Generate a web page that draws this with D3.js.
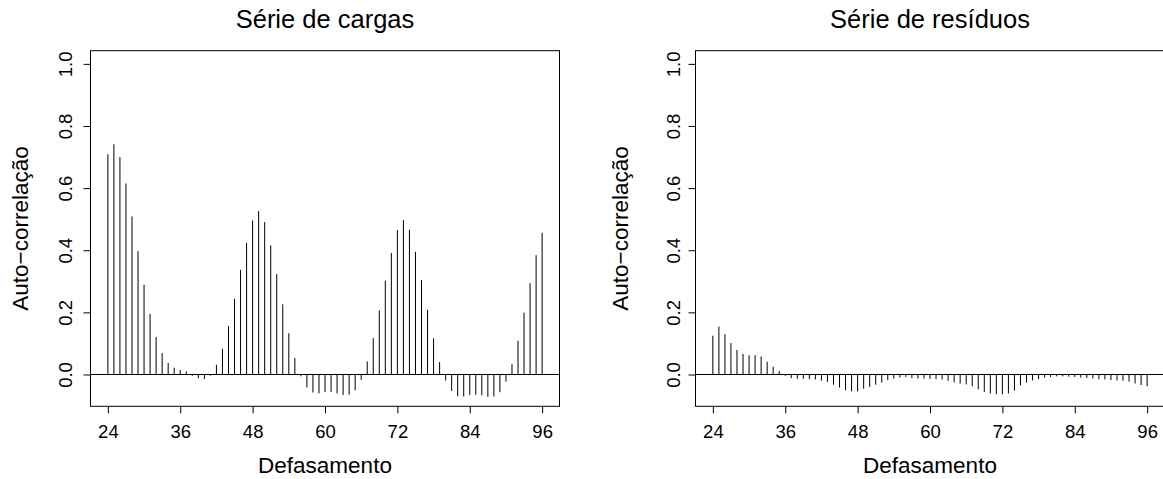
<!DOCTYPE html>
<html>
<head>
<meta charset="utf-8">
<script src="https://cdn.jsdelivr.net/npm/d3@7"></script>
<style>
  html, body { margin: 0; padding: 0; background: #fff; }
  svg { display: block; }
  text { font-family: "Liberation Sans", Arial, Helvetica, sans-serif; fill: #000; }
</style>
</head>
<body>
<svg id="chart" width="1163" height="479"></svg>
<script>
// Lags shown on both correlograms
const lags = d3.range(24, 97);

// Sample autocorrelation of the load series, lags 24..96
const acfCargas = [
  0.709, 0.741, 0.700, 0.615, 0.509, 0.397, 0.289, 0.195, 0.121, 0.069,
  0.037, 0.022, 0.015, 0.010, -0.004, -0.012, -0.015, -0.004, 0.031, 0.083,
  0.156, 0.244, 0.337, 0.424, 0.496, 0.526, 0.491, 0.416, 0.323, 0.226,
  0.133, 0.053, -0.006, -0.042, -0.058, -0.061, -0.057, -0.056, -0.061, -0.066,
  -0.065, -0.051, -0.017, 0.042, 0.117, 0.206, 0.302, 0.391, 0.465, 0.497,
  0.466, 0.395, 0.304, 0.208, 0.117, 0.040, -0.019, -0.053, -0.070, -0.071,
  -0.066, -0.065, -0.067, -0.072, -0.071, -0.057, -0.023, 0.033, 0.109, 0.199,
  0.294, 0.384, 0.456
];

// Sample autocorrelation of the model residuals, lags 24..96
const acfResiduos = [
  0.125, 0.154, 0.130, 0.101, 0.079, 0.066, 0.062, 0.062, 0.058, 0.041,
  0.025, 0.011, -0.004, -0.012, -0.014, -0.014, -0.015, -0.016, -0.020, -0.024,
  -0.033, -0.042, -0.051, -0.054, -0.055, -0.046, -0.040, -0.033, -0.026, -0.018,
  -0.013, -0.010, -0.008, -0.012, -0.013, -0.013, -0.014, -0.015, -0.016, -0.020,
  -0.025, -0.029, -0.032, -0.038, -0.048, -0.056, -0.061, -0.063, -0.064, -0.061,
  -0.052, -0.035, -0.026, -0.019, -0.015, -0.010, -0.008, -0.006, -0.006, -0.007,
  -0.008, -0.010, -0.011, -0.013, -0.015, -0.016, -0.018, -0.019, -0.020, -0.023,
  -0.029, -0.034, -0.038
];

const xTicks = [24, 36, 48, 60, 72, 84, 96];
const yTicks = [0.0, 0.2, 0.4, 0.6, 0.8, 1.0];

const titles = ["Série de cargas", "Série de resíduos"];
const xLabel = "Defasamento";
const yLabel = "Auto\u2212correlação";

// Axis limits with the usual 4% padding around [24, 96] and [-0.06, 1]
const pad = (a, b) => [a - 0.04 * (b - a), b + 0.04 * (b - a)];
const xDomain = pad(24, 96);
const yDomain = pad(-0.06, 1);

const panels = [
  { left: 90.5, right: 559.5, values: acfCargas, title: titles[0], tickLabelGap: 18.5, titleGap: 63 },
  { left: 695.5, right: 1164.5, values: acfResiduos, title: titles[1], tickLabelGap: 15.5, titleGap: 68 }
];
const plotTop = 50.7, plotBottom = 406.3;

const svg = d3.select("#chart");

panels.forEach(p => {
  const x = d3.scaleLinear().domain(xDomain).range([p.left, p.right]);
  const y = d3.scaleLinear().domain(yDomain).range([plotBottom, plotTop]);
  const g = svg.append("g");
  const cx = (p.left + p.right) / 2;

  // lag sticks
  g.append("g").selectAll("line")
    .data(lags.map((l, i) => [l, p.values[i]]))
    .join("line")
    .attr("x1", d => x(d[0])).attr("x2", d => x(d[0]))
    .attr("y1", y(0)).attr("y2", d => y(d[1]))
    .attr("stroke", "#000").attr("stroke-width", 1);

  // zero reference line
  g.append("line")
    .attr("x1", p.left).attr("x2", p.right)
    .attr("y1", y(0)).attr("y2", y(0))
    .attr("stroke", "#000").attr("stroke-width", 1);

  // frame
  g.append("rect")
    .attr("x", p.left).attr("y", plotTop)
    .attr("width", p.right - p.left).attr("height", plotBottom - plotTop)
    .attr("fill", "none").attr("stroke", "#000").attr("stroke-width", 1);

  // bottom axis
  const xAxis = d3.axisBottom(x).tickValues(xTicks).tickSize(7).tickPadding(6)
    .tickFormat(d3.format("d"));
  const gx = g.append("g").attr("transform", `translate(0,${plotBottom})`).call(xAxis);
  gx.select(".domain").remove();
  gx.selectAll(".tick line").attr("stroke", "#000");
  gx.selectAll(".tick text").attr("font-size", 18.5).attr("dy", null)
    .attr("y", 438.5 - plotBottom).attr("font-family", null);

  // left axis with rotated labels
  const yAxis = d3.axisLeft(y).tickValues(yTicks).tickSize(7).tickFormat(d3.format(".1f"));
  const gy = g.append("g").attr("transform", `translate(${p.left},0)`).call(yAxis);
  gy.select(".domain").attr("d", `M0,${y(yTicks[0])}V${y(yTicks[yTicks.length - 1])}`)
    .attr("stroke", "#000");
  gy.selectAll(".tick line").attr("stroke", "#000");
  gy.selectAll(".tick text")
    .attr("x", null).attr("dy", null).attr("font-family", null)
    .attr("font-size", 18.5)
    .attr("text-anchor", "middle")
    .attr("transform", `translate(${-p.tickLabelGap},0) rotate(-90)`);

  // titles
  g.append("text").attr("x", cx).attr("y", 28.3)
    .attr("text-anchor", "middle").attr("font-size", 25.5).text(p.title);
  g.append("text").attr("x", cx).attr("y", 472.5)
    .attr("text-anchor", "middle").attr("font-size", 22.5).text(xLabel);
  g.append("text")
    .attr("transform", `translate(${p.left - p.titleGap},${(plotTop + plotBottom) / 2}) rotate(-90)`)
    .attr("text-anchor", "middle").attr("font-size", 22.5).text(yLabel);
});
</script>
</body>
</html>
